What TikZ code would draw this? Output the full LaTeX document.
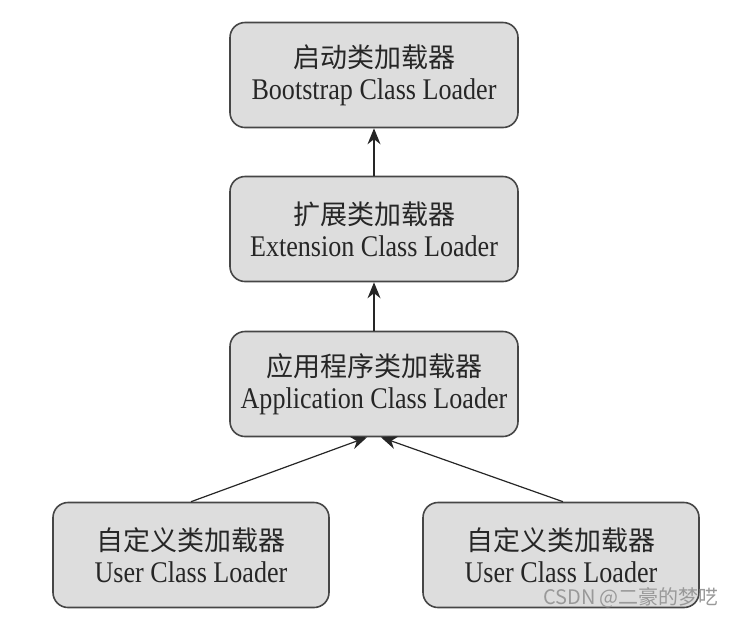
\documentclass[tikz,border=0pt]{standalone}
\usepackage{fontspec}
\setmainfont{Liberation Serif}[FakeStretch=0.87]
\newfontfamily\cjk{Noto Sans CJK SC}
\usepackage{tikz}
\usetikzlibrary{arrows.meta, calc}

\definecolor{boxfill}{RGB}{221,221,221}
\definecolor{boxline}{RGB}{70,70,70}

\begin{document}
\begin{tikzpicture}[x=0.5pt, y=-0.5pt,
                    loader/.style={rectangle, rounded corners=7.5pt, draw=boxline, fill=boxfill, line width=0.8pt,
                                   minimum width=144pt, minimum height=52.5pt, align=center,
                                   font=\fontsize{15}{16}\selectfont, text=black!85},
                    userloader/.style={loader, minimum width=138pt},
                    parent/.style={-{Stealth[length=8pt, width=6.5pt]}, line width=0.6pt, black!85}]

    \useasboundingbox (0,0) rectangle (733,618);

    \node[loader] (boot) at (374,75)  {{\cjk\fontsize{13.5}{16}\selectfont 启动类加载器}\\Bootstrap Class Loader};
    \node[loader] (ext)  at (374,229) {{\cjk\fontsize{13.5}{16}\selectfont 扩展类加载器}\\Extension Class Loader};
    \node[loader] (app)  at (374,384) {{\cjk\fontsize{13.5}{16}\selectfont 应用程序类加载器}\\Application Class Loader};

    \node[userloader] (user1) at (191,555) {{\cjk\fontsize{13.5}{16}\selectfont 自定义类加载器}\\User Class Loader};
    \node[userloader] (user2) at (561,555) {{\cjk\fontsize{13.5}{16}\selectfont 自定义类加载器}\\User Class Loader};

    \draw[parent] (ext) -- (boot);
    \draw[parent] (app) -- (ext);
    \draw[parent] (user1.north) -- ($(app.south)+(-3.5pt,0)$);
    \draw[parent] ($(user2.north)+(1pt,0)$) -- ($(app.south)+(3.5pt,0)$);

    % watermark
    \node[font=\cjk\fontsize{10}{12}\selectfont, text=black!40] (mark) at (631,598) {CSDN @二豪的梦呓};
\end{tikzpicture}
\end{document}
